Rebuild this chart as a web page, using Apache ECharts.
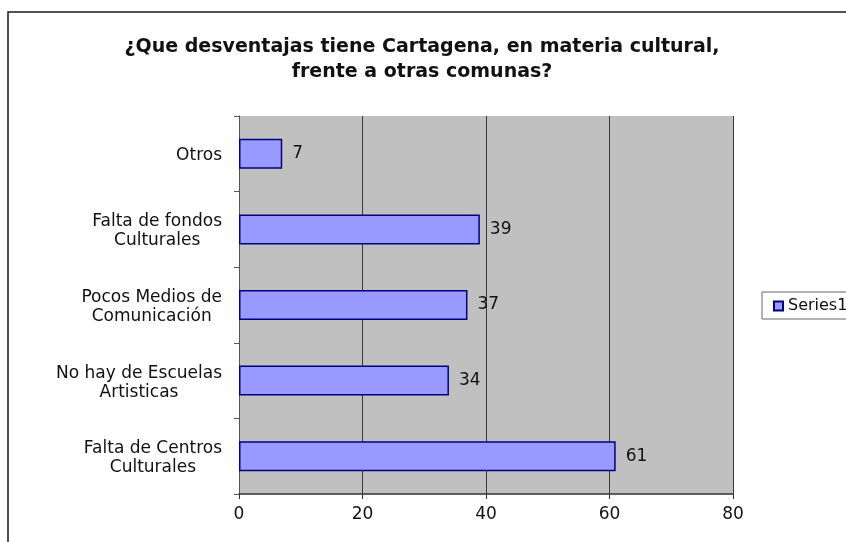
<!DOCTYPE html>
<html>
<head>
<meta charset="utf-8">
<script src="https://cdn.jsdelivr.net/npm/echarts@6/dist/echarts.min.js"></script>
<style>html,body{margin:0;padding:0;background:#fff}#chart{width:846px;height:542px}</style>
</head>
<body>
<div id="chart"></div>
<script>
const titleText = '¿Que desventajas tiene Cartagena, en materia cultural,\nfrente a otras comunas?';
const categories = [
  'Falta de Centros\nCulturales',
  'No hay de Escuelas\nArtisticas',
  'Pocos Medios de\nComunicación',
  'Falta de fondos\nCulturales',
  'Otros'
];
const seriesName = 'Series1';
const values = [61, 34, 37, 39, 7];
const xTicks = [0, 20, 40, 60, 80];

const FONT = '"DejaVu Sans", "Liberation Sans", Arial, sans-serif';
const chart = echarts.init(document.getElementById('chart'), null, {renderer: 'canvas'});
chart.setOption({
  backgroundColor: '#ffffff',
  animation: false,
  title: {
    text: titleText,
    left: 417,
    top: 30,
    textAlign: 'center',
    textStyle: {fontFamily: FONT, fontSize: 19, fontWeight: 'bold', color: '#111', lineHeight: 25, align: 'center'}
  },
  graphic: [{
    type: 'rect',
    shape: {x: 8, y: 12, width: 900, height: 600},
    style: {fill: 'none', stroke: '#1a1a1a', lineWidth: 1.5},
    silent: true, z: 100
  }],
  legend: {
    data: [seriesName],
    left: 762, top: 292,
    orient: 'vertical',
    padding: [6, 2, 5, 11],
    borderColor: '#666', borderWidth: 1,
    backgroundColor: '#fff',
    icon: 'rect', itemWidth: 9, itemHeight: 9,
    textStyle: {fontFamily: FONT, fontSize: 16, color: '#111'}
  },
  grid: {
    left: 239, right: 113, top: 116, bottom: 48,
    show: true, backgroundColor: '#C0C0C0', borderWidth: 0,
    containLabel: false
  },
  xAxis: {
    type: 'value', min: xTicks[0], max: xTicks[xTicks.length - 1], interval: 20,
    axisLine: {show: true, lineStyle: {color: '#333', width: 1.5}},
    axisTick: {show: true, length: 5, lineStyle: {color: '#333'}},
    splitLine: {show: true, lineStyle: {color: '#3a3a3a', width: 1}},
    axisLabel: {fontFamily: FONT, fontSize: 17, color: '#111', margin: 12}
  },
  yAxis: {
    type: 'category', data: categories,
    axisLine: {show: true, lineStyle: {color: '#555', width: 1}},
    axisTick: {show: true, length: 5, lineStyle: {color: '#555'}},
    axisLabel: {
      margin: 17, color: '#111', fontFamily: FONT, fontSize: 17, lineHeight: 19,
      padding: [4, 0, 0, 0],
      formatter: v => v.split('\n').map(s => '{c|' + s + '}').join('\n'),
      rich: {c: {align: 'center', fontFamily: FONT, fontSize: 17, lineHeight: 19, color: '#111'}}
    }
  },
  series: [{
    name: seriesName, type: 'bar', data: values,
    barWidth: 30,
    itemStyle: {color: '#9999FF', borderColor: '#000080', borderWidth: 1.5},
    label: {show: true, position: 'right', distance: 10, fontFamily: FONT, fontSize: 17, color: '#111'}
  }]
});
</script>
</body>
</html>
